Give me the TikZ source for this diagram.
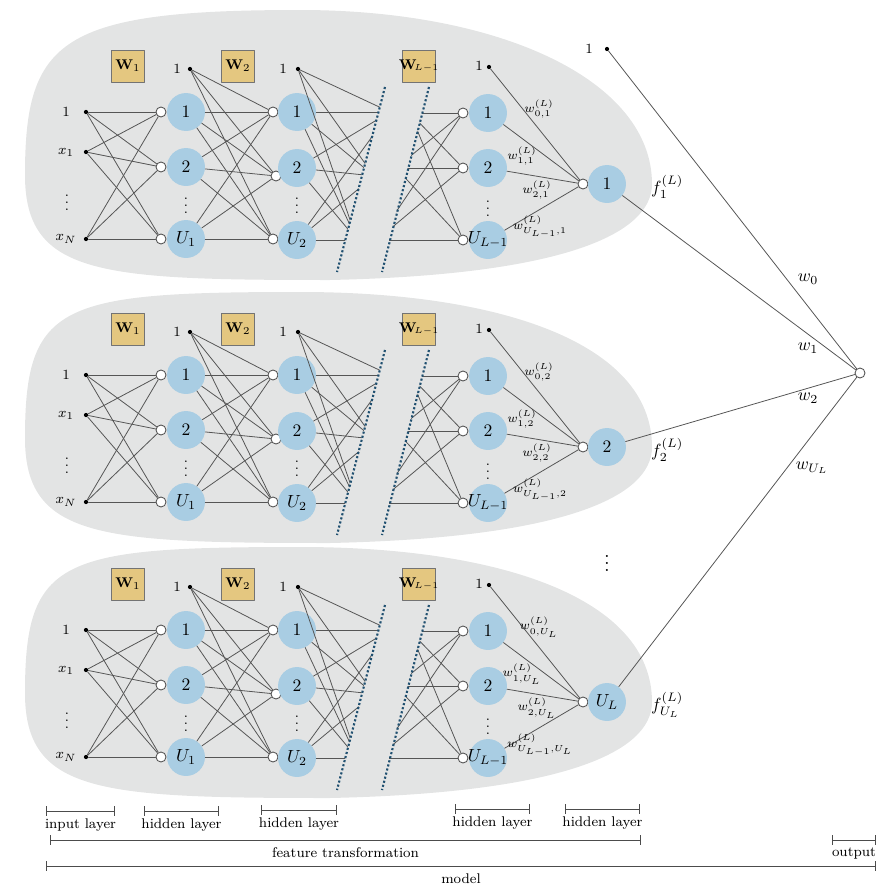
\documentclass[tikz,border=0pt]{standalone}
\definecolor{blobgray}{RGB}{227,228,228}
\definecolor{unitblue}{RGB}{169,205,227}
\definecolor{wtan}{RGB}{228,199,128}
\definecolor{cutblue}{RGB}{32,80,112}
\definecolor{edgegray}{RGB}{85,85,85}
\begin{document}
\begin{tikzpicture}[x=0.02cm,y=-0.02cm,line join=round,line cap=round]
\tikzset{
  unit/.style={circle,fill=unitblue,minimum size=21.6pt,inner sep=0pt,font=\normalsize},
  sumnode/.style={circle,draw=edgegray,fill=white,minimum size=5.7pt,inner sep=0pt,line width=0.5pt},
  dotnode/.style={circle,fill=black,minimum size=2.4pt,inner sep=0pt},
  wbox/.style={draw=black!55,fill=wtan,minimum width=18.8pt,minimum height=18.2pt,inner sep=0pt,font=\footnotesize},
  edge/.style={draw=edgegray,line width=0.45pt},
  cut/.style={cutblue,line width=1.2pt,line cap=butt,dash pattern=on 1.2pt off 1.2pt},
  lbl/.style={font=\footnotesize},
  wlbl/.style={font=\scriptsize},
  span/.style={|-|,line width=0.5pt,draw=black!70}
}
\useasboundingbox (0,0) rectangle (886,889);

\foreach \off/\top/\k/\f in {0/10/1/1,263/29/2/2,518/29/3/U_L}{
\begin{scope}[shift={(0,\off)},name prefix=b\k-]
  \fill[blobgray] (25,175) .. controls (25,40) and (60,\top) .. (300,\top)
    .. controls (500,\top) and (652,80) .. (652,184)
    .. controls (652,235) and (560,275) .. (330,280)
    .. controls (100,280) and (25,275) .. (25,175) -- cycle;
  \node[wbox] (w1) at (128,66) {$\mathbf{W}_1$};
  \node[wbox] (w2) at (238,66) {$\mathbf{W}_2$};
  \node[wbox] (wl) at (419,66) {\makebox[0pt]{$\mathbf{W}_{\!\scriptscriptstyle L-1}$}};
  % input layer
  \foreach \i/\y/\t in {1/112/1,2/152/x_1,3/239/x_N}{
    \node[dotnode] (x\i) at (86,\y) {};
    \node[lbl] (lx\i) at (66,\y) {$\t$};
  }
  \node[lbl] (dx) at (67,197) {$\vdots$};
  % hidden layers
  \foreach \i/\y/\t in {1/112/1,2/167/2,3/239/U_1}{
    \node[sumnode] (s1\i) at (161,\y) {};
    \node[unit] (h1\i) at (186,\y) {\makebox[0pt]{$\t$}};
  }
  \node[lbl] (d1) at (186,200) {$\vdots$};
  \node[dotnode] (bias1) at (190,69) {};
  \node[lbl] (lb1) at (177,69) {$1$};
  \foreach \i/\y/\z/\t in {1/112/112/1,2/176/168/2,3/239/240/U_2}{
    \node[sumnode] (s2\i) at ({\i==2 ? 276 : 273},\y) {};
    \node[unit] (h2\i) at (297,\z) {\makebox[0pt]{$\t$}};
  }
  \node[lbl] (d2) at (297,200) {$\vdots$};
  \node[dotnode] (bias2) at (298,69) {};
  \node[lbl] (lb2) at (283,69) {$1$};
  \coordinate (v1) at (390,112);
  \coordinate (v2) at (374,176);
  \coordinate (v3) at (357,240);
  \coordinate (u1) at (410,113);
  \coordinate (u2) at (396,168);
  \coordinate (u3) at (377,240);
  \foreach \i/\y/\t in {1/113/1,2/168/2,3/240/U_{L-1}}{
    \node[sumnode] (s3\i) at (463,\y) {};
    \node[unit] (h3\i) at (488,\y) {\makebox[0pt]{$\t$}};
  }
  \node[lbl] (d3) at (488,203) {$\vdots$};
  \node[dotnode] (bias3) at (489,67) {};
  \node[lbl] (lb3) at (479,66) {$1$};
  % last layer
  \node[sumnode] (so) at (583,184) {};
  \node[unit] (fo) at (607,184) {\makebox[0pt]{$\f$}};
  \node[anchor=west] (fl) at (645,187) {$f_{\f}^{(L)}$};
  % connections
  \foreach \a in {x1,x2,x3} \foreach \b in {s11,s12,s13} \draw[edge] (\a) -- (\b);
  \foreach \a in {bias1,h11,h12,h13} \foreach \b in {s21,s22,s23} \draw[edge] (\a) -- (\b);
  \begin{scope}
    \clip (250,0) -- (407.6,0) -- (329.7,300) -- (250,300) -- cycle;
    \foreach \a in {bias2,h21,h22,h23} \foreach \b in {v1,v2,v3} \draw[edge] (\a) -- (\b);
  \end{scope}
  \begin{scope}
    \clip (451.6,0) -- (520,0) -- (520,300) -- (373.7,300) -- cycle;
    \foreach \a in {u1,u2,u3} \foreach \b in {s31,s32,s33} \draw[edge] (\a) -- (\b);
  \end{scope}
  \foreach \a in {bias3,h31,h32,h33} \draw[edge] (\a) -- (so);
  \draw[cut] (385,87) -- (337,272);
  \draw[cut] (429,87) -- (382,272);
  \node[wlbl] (k0) at (539,109) {$w^{(L)}_{0,\f}$};
  \node[wlbl] (k1) at (522,156) {$w^{(L)}_{1,\f}$};
  \node[wlbl] (k2) at (537,190) {$w^{(L)}_{2,\f}$};
  \node[wlbl] (k3) at (540,227) {$w^{(L)}_{U_{L-1},\f}$};
\end{scope}
}

% output
\node[dotnode] (one) at (607,49) {};
\node[lbl] (lone) at (589,49) {$1$};
\node[sumnode] (out) at (860,373) {};
\node (vd) at (607,558) {\large$\vdots$};
\foreach \a in {one,b1-fo,b2-fo,b3-fo} \draw[edge] (\a) -- (out);
\node (c0) at (808,279) {$w_0$};
\node (c1) at (808,348) {$w_1$};
\node (c2) at (808,398) {$w_2$};
\node (c3) at (812,468) {$w_{U_L}$};

% layer spans
\foreach \a/\b/\y/\t in {46/115/811/input layer,144/219/811/hidden layer,261/337/810/hidden layer,455/530/809/hidden layer,565/640/809/hidden layer,50/641/840/feature transformation,832/876/840/output,46/876/866/model}
  \draw[span] (\a,\y) -- node[below=1pt,lbl,text=black] {\t} (\b,\y);
\end{tikzpicture}
\end{document}
